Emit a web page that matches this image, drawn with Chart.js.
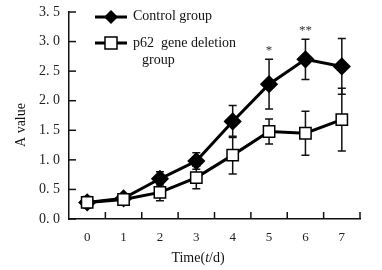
<!DOCTYPE html>
<html>
<head>
<meta charset="utf-8">
<script src="https://cdn.jsdelivr.net/npm/chart.js@4.4.1/dist/chart.umd.min.js"></script>
<style>
  html, body { margin: 0; padding: 0; background: #fff; }
  #wrap { width: 382px; height: 270px; }
</style>
</head>
<body>
<div id="wrap"><canvas id="chart" width="382" height="270"></canvas></div>
<script>
var days = ['0', '1', '2', '3', '4', '5', '6', '7'];
var controlValues = [0.28, 0.35, 0.68, 0.98, 1.65, 2.28, 2.70, 2.58];
var controlErrors = [0.10, 0.05, 0.12, 0.14, 0.27, 0.42, 0.34, 0.47];
var p62Values = [0.28, 0.33, 0.45, 0.70, 1.08, 1.48, 1.45, 1.68];
var p62Errors = [0.08, 0.05, 0.14, 0.19, 0.32, 0.21, 0.37, 0.53];
var marks = ['', '', '', '', '', '*', '**', ''];
var yTicks = [0, 0.5, 1.0, 1.5, 2.0, 2.5, 3.0, 3.5];

var FONT = '"Liberation Serif", "DejaVu Serif", serif';

var errorBars = {
  id: 'errorBars',
  beforeDatasetsDraw: function(chart) {
    var ctx = chart.ctx;
    var xs = chart.scales.x, ys = chart.scales.y;
    var sets = [[controlValues, controlErrors], [p62Values, p62Errors]];
    ctx.save();
    ctx.strokeStyle = '#111';
    ctx.lineWidth = 1.5;
    sets.forEach(function(s) {
      s[0].forEach(function(v, i) {
        var x = xs.getPixelForValue(i);
        var top = ys.getPixelForValue(v + s[1][i]);
        var bot = ys.getPixelForValue(v - s[1][i]);
        ctx.beginPath();
        ctx.moveTo(x, top); ctx.lineTo(x, bot);
        ctx.moveTo(x - 4, top); ctx.lineTo(x + 4, top);
        ctx.moveTo(x - 4, bot); ctx.lineTo(x + 4, bot);
        ctx.stroke();
      });
    });
    ctx.restore();
  },
  afterDraw: function(chart) {
    var ctx = chart.ctx;
    var xs = chart.scales.x, ys = chart.scales.y;
    var area = chart.chartArea;
    ctx.save();
    ctx.strokeStyle = '#111';
    ctx.lineWidth = 1.5;
    // inward ticks on y axis
    yTicks.forEach(function(t) {
      var y = ys.getPixelForValue(t);
      ctx.beginPath();
      ctx.moveTo(area.left, y); ctx.lineTo(area.left + 7, y);
      ctx.stroke();
    });
    // inward ticks on x axis at category borders
    for (var i = 0; i < days.length; i++) {
      var b = i < days.length - 1
        ? (xs.getPixelForValue(i) + xs.getPixelForValue(i + 1)) / 2
        : area.right;
      ctx.beginPath();
      ctx.moveTo(b, area.bottom); ctx.lineTo(b, area.bottom - 7);
      ctx.stroke();
    }
    // significance marks
    ctx.fillStyle = '#333';
    ctx.font = '13px ' + FONT;
    ctx.textAlign = 'center';
    ctx.textBaseline = 'bottom';
    marks.forEach(function(m, i) {
      if (!m) return;
      var x = xs.getPixelForValue(i);
      var y = ys.getPixelForValue(controlValues[i] + controlErrors[i]);
      ctx.fillText(m, x, y - 2);
    });

    // legend
    ctx.lineWidth = 3;
    ctx.strokeStyle = '#000';
    ctx.beginPath();
    ctx.moveTo(95, 17); ctx.lineTo(127, 17);
    ctx.moveTo(95, 43); ctx.lineTo(127, 43);
    ctx.stroke();
    ctx.fillStyle = '#000';
    ctx.beginPath();
    ctx.moveTo(111, 10); ctx.lineTo(118, 17); ctx.lineTo(111, 24); ctx.lineTo(104, 17);
    ctx.closePath(); ctx.fill();
    ctx.fillStyle = '#fff';
    ctx.lineWidth = 1.5;
    ctx.fillRect(105, 37, 12, 12);
    ctx.strokeRect(105, 37, 12, 12);
    ctx.fillStyle = '#111';
    ctx.font = '14px ' + FONT;
    ctx.textAlign = 'left';
    ctx.textBaseline = 'middle';
    ctx.fillText('Control group', 133, 16);
    ctx.fillText('p62  gene deletion', 133, 43);
    ctx.fillText('group', 142, 60);

    // axis titles
    ctx.font = '14px ' + FONT;
    ctx.save();
    ctx.translate(21, 125);
    ctx.rotate(-Math.PI / 2);
    ctx.textAlign = 'center';
    ctx.fillText('A value', 0, 0);
    ctx.restore();
    var y0 = 258;
    var parts = [['Time(', '14px '], ['t', 'italic 14px '], ['/d)', '14px ']];
    var w = 0;
    parts.forEach(function(p) { ctx.font = p[1] + FONT; w += ctx.measureText(p[0]).width; });
    var x0 = 198 - w / 2;
    parts.forEach(function(p) {
      ctx.font = p[1] + FONT;
      ctx.fillText(p[0], x0, y0);
      x0 += ctx.measureText(p[0]).width;
    });
    ctx.restore();
  }
};

new Chart(document.getElementById('chart').getContext('2d'), {
  type: 'line',
  data: {
    labels: days,
    datasets: [
      {
        label: 'p62 gene deletion group',
        data: p62Values,
        order: 0,
        borderColor: '#000',
        borderWidth: 3,
        pointStyle: 'rect',
        pointRadius: 8,
        pointBorderWidth: 1.5,
        pointBackgroundColor: '#fff',
        pointBorderColor: '#000',
        tension: 0
      },
      {
        label: 'Control group',
        data: controlValues,
        order: 1,
        borderColor: '#000',
        borderWidth: 3,
        pointStyle: 'rectRot',
        pointRadius: 7,
        pointBackgroundColor: '#000',
        pointBorderColor: '#000',
        tension: 0
      }
    ]
  },
  options: {
    responsive: false,
    animation: false,
    devicePixelRatio: 1,
    layout: { padding: { top: 12, right: 22, left: 0, bottom: 0 } },
    plugins: { legend: { display: false }, tooltip: { enabled: false } },
    scales: {
      x: {
        type: 'category',
        offset: true,
        grid: { display: false },
        border: { display: true, color: '#111', width: 1.5 },
        ticks: { color: '#222', font: { family: FONT, size: 13 }, padding: 3 },
        afterFit: function(s) { s.height = 51; }
      },
      y: {
        min: 0,
        max: 3.5,
        grid: { display: false },
        border: { display: true, color: '#111', width: 1.5 },
        ticks: {
          stepSize: 0.5,
          color: '#222',
          padding: 1,
          font: { family: FONT, size: 14 },
          callback: function(v) { return v.toFixed(1).replace('.', '. '); }
        },
        afterFit: function(s) { s.width = 69; }
      }
    }
  },
  plugins: [errorBars]
});
</script>
</body>
</html>
